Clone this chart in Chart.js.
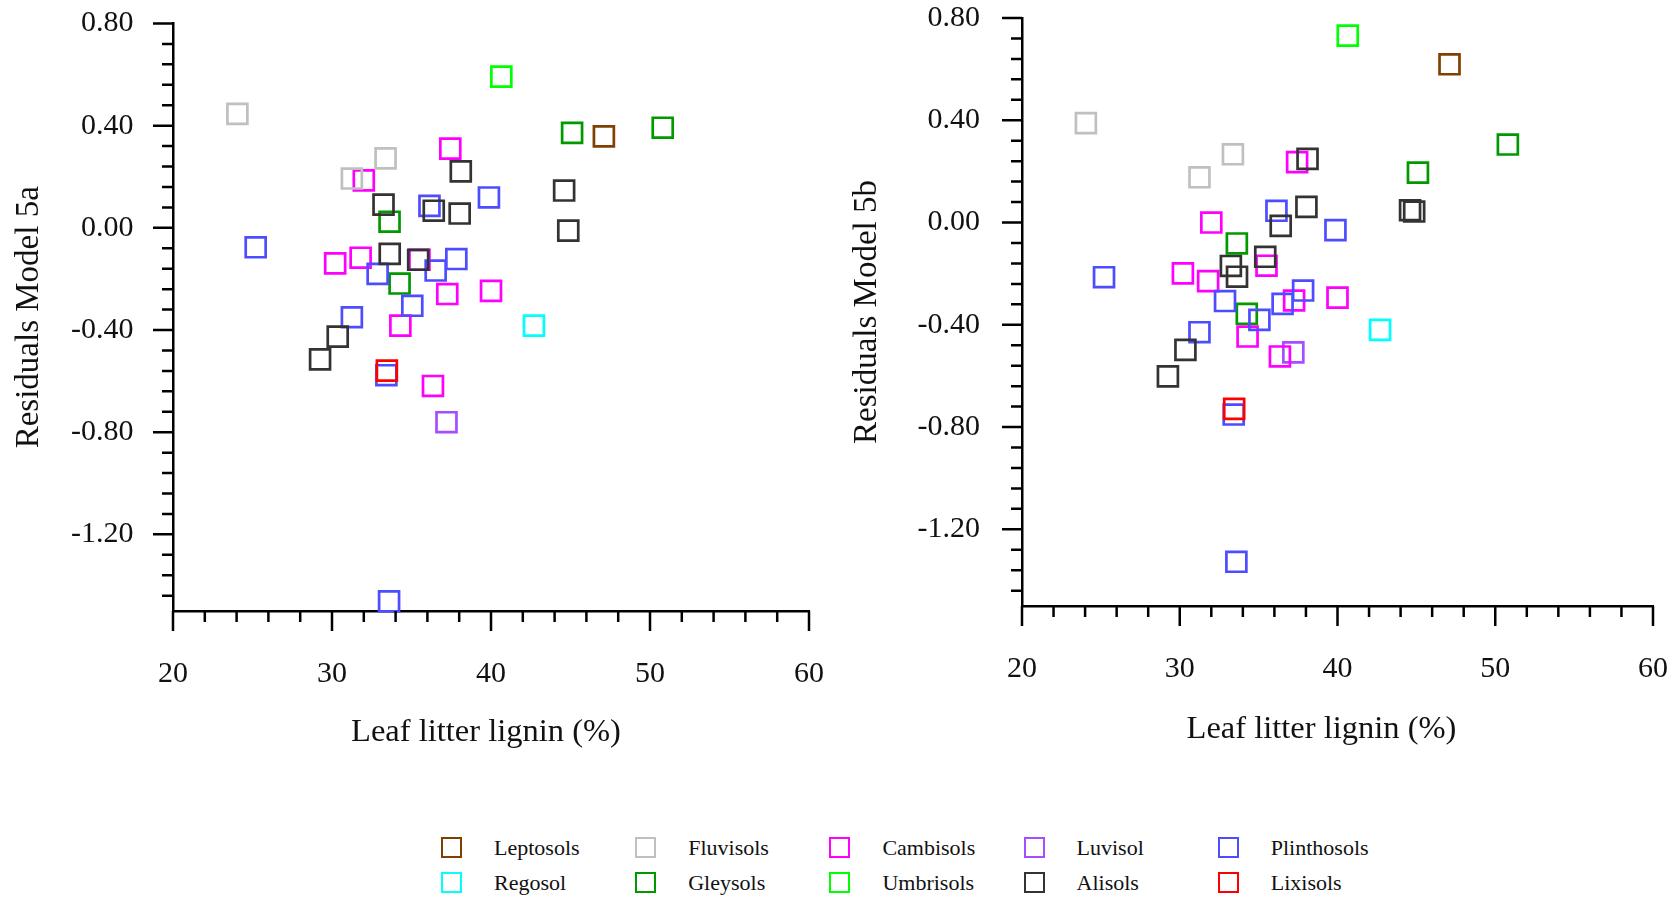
<!DOCTYPE html>
<html>
<head>
<meta charset="utf-8">
<script src="https://cdn.jsdelivr.net/npm/chart.js@4.4.1/dist/chart.umd.min.js"></script>
<style>
html,body{margin:0;padding:0;background:#fff;width:1674px;height:899px;overflow:hidden;font-family:'Liberation Serif',serif;}
#c1wrap{position:absolute;left:0;top:0;width:840px;height:780px;}
#c2wrap{position:absolute;left:840px;top:0;width:834px;height:780px;}
#legend{position:absolute;left:441px;top:830px;display:grid;grid-template-columns:repeat(5,194.2px);grid-auto-rows:35.2px;}
.item{display:flex;align-items:center;font-size:22px;color:#111;white-space:nowrap;}
.sw{box-sizing:border-box;width:21px;height:21px;border:2.5px solid;margin-right:32px;flex:none;}
</style>
</head>
<body>
<div id="c1wrap"><canvas id="c1"></canvas></div>
<div id="c2wrap"><canvas id="c2"></canvas></div>
<div id="legend"></div>
<script>
// ---------------- DATA ----------------
const categories = ['Leptosols','Fluvisols','Cambisols','Luvisol','Plinthosols','Regosol','Gleysols','Umbrisols','Alisols','Lixisols'];
const colors     = ['#804000','#c0c0c0','#ff00ff','#a64dff','#4d4dff','#00ffff','#009900','#00ff00','#333333','#ff0000'];

// Leaf litter lignin (%) per soil group
const ligninLeptosols   = [47.1];
const ligninFluvisols   = [24.05, 33.37, 31.25];
const ligninCambisols   = [32.0, 37.44, 30.2, 31.8, 35.5, 37.25, 40.0, 34.3, 36.35];
const ligninLuvisol     = [37.2];
const ligninPlinthosols = [25.2, 36.13, 39.87, 32.87, 36.52, 37.82, 35.05, 31.25, 33.42, 33.59];
const ligninRegosol     = [42.7];
const ligninGleysols    = [33.62, 34.25, 45.1, 50.8];
const ligninUmbrisols   = [40.65];
const ligninAlisols     = [38.1, 38.03, 33.24, 33.63, 36.4, 35.42, 30.36, 29.25, 44.6, 44.86];
const ligninLixisols    = [33.45];

// Residuals Model 5a
const res5aLeptosols   = [0.358];
const res5aFluvisols   = [0.446, 0.272, 0.193];
const res5aCambisols   = [0.186, 0.310, -0.139, -0.117, -0.125, -0.259, -0.247, -0.383, -0.619];
const res5aLuvisol     = [-0.761];
const res5aPlinthosols = [-0.076, 0.086, 0.119, -0.180, -0.167, -0.122, -0.305, -0.350, -0.577, -1.462];
const res5aRegosol     = [-0.383];
const res5aGleysols    = [0.024, -0.218, 0.372, 0.392];
const res5aUmbrisols   = [0.592];
const res5aAlisols     = [0.221, 0.056, 0.091, -0.102, 0.067, -0.125, -0.426, -0.515, 0.146, -0.011];
const res5aLixisols    = [-0.559];

// Residuals Model 5b
const res5bLeptosols   = [0.619];
const res5bFluvisols   = [0.389, 0.267, 0.177];
const res5bCambisols   = [0.000, 0.236, -0.199, -0.229, -0.169, -0.305, -0.294, -0.446, -0.524];
const res5bLuvisol     = [-0.508];
const res5bPlinthosols = [-0.214, 0.046, -0.030, -0.307, -0.318, -0.266, -0.381, -0.429, -0.751, -1.327];
const res5bRegosol     = [-0.420];
const res5bGleysols    = [-0.082, -0.357, 0.195, 0.305];
const res5bUmbrisols   = [0.731];
const res5bAlisols     = [0.249, 0.061, -0.170, -0.212, -0.013, -0.134, -0.498, -0.602, 0.048, 0.043];
const res5bLixisols    = [-0.729];

// Axis ticks
const xTicks = [20, 30, 40, 50, 60];
const yTicks = [0.80, 0.40, 0.00, -0.40, -0.80, -1.20];
const xMinorStep = 2;
const yMinorStep = 0.08;
const xRange = [20, 60];
const yRange = [-1.5, 0.8];

const xTitle = 'Leaf litter lignin (%)';
const yTitle5a = 'Residuals Model 5a';
const yTitle5b = 'Residuals Model 5b';

const ligninByCat = [ligninLeptosols, ligninFluvisols, ligninCambisols, ligninLuvisol, ligninPlinthosols, ligninRegosol, ligninGleysols, ligninUmbrisols, ligninAlisols, ligninLixisols];
const res5aByCat  = [res5aLeptosols, res5aFluvisols, res5aCambisols, res5aLuvisol, res5aPlinthosols, res5aRegosol, res5aGleysols, res5aUmbrisols, res5aAlisols, res5aLixisols];
const res5bByCat  = [res5bLeptosols, res5bFluvisols, res5bCambisols, res5bLuvisol, res5bPlinthosols, res5bRegosol, res5bGleysols, res5bUmbrisols, res5bAlisols, res5bLixisols];

// drawing order
const drawOrder = [9, 0, 1, 8, 4, 2, 3, 5, 6, 7];

// ---------------- CHARTS ----------------
const FONT = "'Liberation Serif', 'Times New Roman', serif";
Chart.defaults.font.family = FONT;
Chart.defaults.color = '#111';

const tickMarks = {
  id: 'tickMarks',
  afterDraw(chart, args, opts) {
    const {ctx, chartArea, scales} = chart;
    const xs = scales.x, ys = scales.y;
    ctx.save();
    ctx.strokeStyle = '#000';
    ctx.lineWidth = 2.5;
    ctx.beginPath();
    const nx = Math.round((xRange[1] - xRange[0]) / xMinorStep);
    for (let i = 0; i <= nx; i++) {
      const v = xRange[0] + i * xMinorStep;
      const px = xs.getPixelForValue(v);
      const len = xTicks.includes(v) ? 20 : 11;
      ctx.moveTo(px, chartArea.bottom);
      ctx.lineTo(px, chartArea.bottom + len);
    }
    const ny = Math.floor((yRange[1] - yRange[0]) / yMinorStep + 1e-6);
    for (let k = 0; k <= ny; k++) {
      const v = yRange[1] - k * yMinorStep;
      const py = ys.getPixelForValue(v);
      const len = (k % 5 === 0) ? 20 : 11;
      ctx.moveTo(chartArea.left - len, py);
      ctx.lineTo(chartArea.left, py);
    }
    ctx.stroke();
    // x-axis title
    ctx.fillStyle = '#111';
    ctx.font = '32.5px ' + FONT;
    ctx.textAlign = 'center';
    ctx.textBaseline = 'middle';
    const cx = (chartArea.left + chartArea.right) / 2 + opts.dx;
    ctx.fillText(xTitle, cx, opts.ty);
    ctx.restore();
  }
};

function makeChart(id, resByCat, yTitle, L) {
  const datasets = drawOrder.map(ci => ({
    label: categories[ci],
    data: ligninByCat[ci].map((x, j) => ({x: x, y: resByCat[ci][j]})),
    borderColor: colors[ci],
    backgroundColor: 'rgba(0,0,0,0)',
    pointStyle: 'rect',
    pointRadius: 14.1,
    pointHoverRadius: 14.1,
    borderWidth: 2.7,
    showLine: false
  }));
  return new Chart(document.getElementById(id), {
    type: 'scatter',
    data: {datasets},
    plugins: [tickMarks],
    options: {
      responsive: true,
      maintainAspectRatio: false,
      animation: false,
      clip: false,
      layout: {padding: {top: L.top, right: L.right, bottom: L.bottom, left: 0}},
      plugins: {legend: {display: false}, tooltip: {enabled: false}, tickMarks: {dx: L.dx, ty: L.ty}},
      scales: {
        x: {
          type: 'linear', min: xRange[0], max: xRange[1],
          afterBuildTicks: s => { s.ticks = xTicks.map(v => ({value: v})); },
          afterFit: s => { s.height = L.xh; },
          grid: {display: true, drawOnChartArea: false, drawTicks: true, tickLength: 43.5, tickColor: 'rgba(0,0,0,0)'},
          border: {display: true, color: '#000', width: 2.5},
          ticks: {font: {size: 30}, padding: 2, color: '#111', maxRotation: 0},
          title: {display: false}
        },
        y: {
          type: 'linear', min: yRange[0], max: yRange[1],
          afterBuildTicks: s => { s.ticks = yTicks.map(v => ({value: v})); },
          afterFit: s => { s.width = L.yw; },
          grid: {display: true, drawOnChartArea: false, drawTicks: true, tickLength: L.ytl, tickColor: 'rgba(0,0,0,0)'},
          border: {display: true, color: '#000', width: 2.5},
          ticks: {font: {size: 30}, padding: 0, color: '#111', callback: v => Number(v).toFixed(2)},
          title: {display: true, text: yTitle, font: {size: 33}, color: '#111', padding: {top: L.tp, bottom: 0}}
        }
      }
    }
  });
}

makeChart('c1', res5aByCat, yTitle5a, {top: 23.5, right: 31, bottom: 28.8, xh: 140.2, yw: 173, tp: 10, dx: -5, ty: 732, ytl: 39.5});
makeChart('c2', res5bByCat, yTitle5b, {top: 18, right: 21, bottom: 31.8, xh: 142.2, yw: 182, tp: 7.5, dx: -16, ty: 729, ytl: 42});

// ---------------- LEGEND ----------------
const legend = document.getElementById('legend');
categories.forEach((name, i) => {
  const it = document.createElement('div');
  it.className = 'item';
  const sw = document.createElement('div');
  sw.className = 'sw';
  sw.style.borderColor = colors[i];
  const tx = document.createElement('span');
  tx.textContent = name;
  it.appendChild(sw); it.appendChild(tx);
  legend.appendChild(it);
});
</script>
</body>
</html>
